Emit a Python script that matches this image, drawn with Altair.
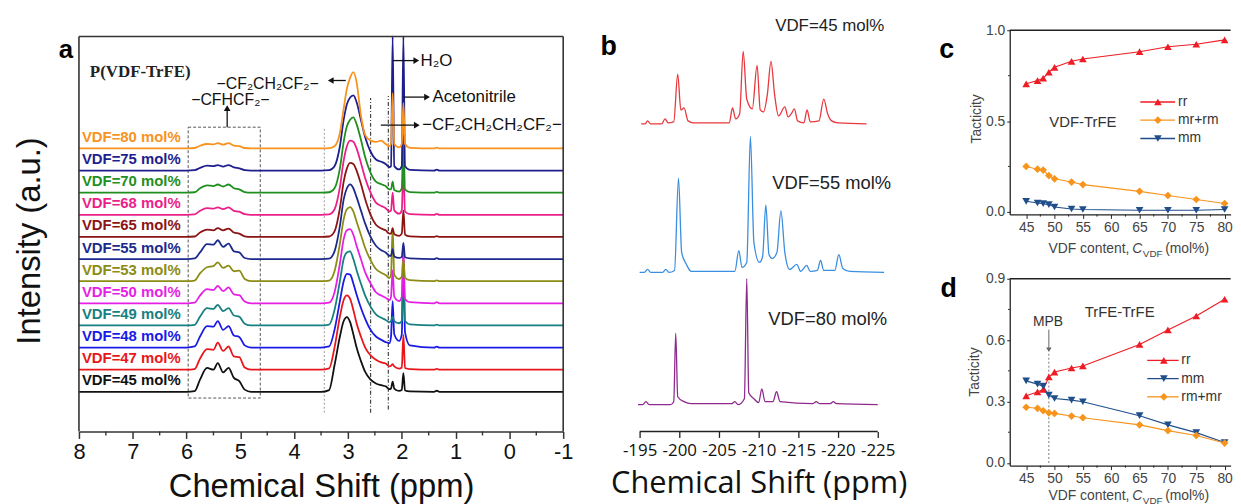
import altair as alt
import pandas as pd

SANS = "Liberation Sans"

# ---------------- panel a : 1H NMR spectra ----------------
A_PPM = [8.0, 6.0, 5.85, 5.75, 5.62, 5.5, 5.42, 5.32, 5.22, 5.12, 5.02, 4.92, 4.8,
         3.5, 3.35, 3.25, 3.15, 3.08, 3.02, 2.96, 2.9, 2.84, 2.76, 2.68, 2.58, 2.48, 2.38, 2.3, 2.23,
         2.2, 2.17, 2.14, 2.05, 2.0, 1.97, 1.94, 1.85,
         1.4, 1.35, 1.3, -1.0]
A_LABELS = ["VDF=45 mol%", "VDF=47 mol%", "VDF=48 mol%", "VDF=49 mol%", "VDF=50 mol%", "VDF=53 mol%",
            "VDF=55 mol%", "VDF=65 mol%", "VDF=68 mol%", "VDF=70 mol%", "VDF=75 mol%", "VDF=80 mol%"]
A_COLORS = ["#111111", "#e8161b", "#1a1ae6", "#178080", "#e61ee6", "#8c8c14",
            "#1c2a8c", "#8b1414", "#ec1f8a", "#1f8f1f", "#1e1e8e", "#f7931e"]
A_I45 = [0, 0, 0.03, 0.55, 1.08, 1.0, 1.3, 0.88, 1.08, 0.63, 0.48, 0.1, 0,
         0, 0.08, 1.2, 2.5, 3.2, 3.38, 3.15, 2.6, 2.0, 1.4, 0.9, 0.55, 0.38, 0.3, 0.25, 0.12,
         0.15, 0.46, 0.15, 0.04, 0.08, 0.85, 0.06, 0.02, 0, 0.05, 0, 0]
A_I47 = [0, 0, 0.03, 0.5, 0.93, 0.9, 1.22, 0.85, 1.05, 0.6, 0.57, 0.1, 0,
         0, 0.06, 1.0, 2.4, 3.15, 3.36, 3.2, 2.7, 2.1, 1.5, 1.0, 0.65, 0.45, 0.33, 0.28, 0.15,
         0.18, 0.25, 0.15, 0.05, 0.1, 1.57, 0.08, 0.03, 0, 0.04, 0, 0]
A_I48 = [0, 0, 0.05, 0.5, 0.97, 0.95, 1.2, 0.8, 0.97, 0.55, 0.48, 0.1, 0,
         0, 0.05, 0.8, 2.1, 3.0, 3.33, 3.3, 2.9, 2.4, 1.8, 1.3, 0.8, 0.5, 0.35, 0.25, 0.2,
         0.5, 2.1, 0.6, 0.3, 0.6, 4.2, 0.7, 0.1, 0, 0.04, 0, 0]
A_I49 = [0, 0, 0.03, 0.4, 0.78, 0.75, 0.93, 0.65, 0.78, 0.45, 0.4, 0.08, 0,
         0, 0.04, 0.7, 2.0, 3.0, 3.3, 3.35, 3.0, 2.5, 1.9, 1.35, 0.85, 0.5, 0.35, 0.25, 0.15,
         0.2, 0.4, 0.2, 0.1, 0.2, 3.0, 0.2, 0.05, 0, 0.04, 0, 0]
A_I50 = [0, 0, 0.03, 0.35, 0.64, 0.6, 0.79, 0.55, 0.72, 0.4, 0.37, 0.08, 0,
         0, 0.03, 0.5, 1.8, 2.9, 3.3, 3.35, 3.1, 2.6, 2.0, 1.4, 0.9, 0.5, 0.35, 0.25, 0.15,
         0.3, 1.5, 0.3, 0.1, 0.3, 2.5, 0.2, 0.05, 0, 0.05, 0, 0]
A_I53 = [0, 0, 0.03, 0.35, 0.63, 0.68, 0.85, 0.6, 0.7, 0.45, 0.48, 0.1, 0,
         0, 0.03, 0.45, 1.7, 2.8, 3.25, 3.35, 3.15, 2.7, 2.1, 1.5, 0.95, 0.55, 0.38, 0.28, 0.15,
         0.3, 2.4, 0.3, 0.1, 0.2, 1.0, 0.15, 0.05, 0, 0.04, 0, 0]
A_I55 = [0, 0, 0.03, 0.3, 0.68, 0.65, 0.85, 0.55, 0.7, 0.35, 0.3, 0.05, 0,
         0, 0.02, 0.35, 1.5, 2.7, 3.2, 3.38, 3.2, 2.8, 2.2, 1.6, 1.0, 0.6, 0.4, 0.3, 0.15,
         0.15, 0.45, 0.12, 0.05, 0.1, 0.73, 0.08, 0.03, 0, 0.04, 0, 0]
A_I65 = [0, 0, 0.02, 0.2, 0.33, 0.3, 0.4, 0.3, 0.38, 0.2, 0.15, 0.03, 0,
         0, 0.02, 0.25, 1.3, 2.5, 3.1, 3.35, 3.3, 3.0, 2.4, 1.7, 1.0, 0.55, 0.38, 0.3, 0.15,
         0.15, 0.4, 0.12, 0.05, 0.15, 1.2, 0.1, 0.03, 0, 0.04, 0, 0]
A_I68 = [0, 0, 0.02, 0.18, 0.3, 0.28, 0.34, 0.26, 0.34, 0.18, 0.14, 0.03, 0,
         0, 0.02, 0.25, 1.25, 2.45, 3.1, 3.35, 3.3, 3.0, 2.35, 1.65, 1.0, 0.55, 0.4, 0.3, 0.15,
         0.2, 1.0, 0.2, 0.05, 0.2, 2.2, 0.15, 0.03, 0, 0.04, 0, 0]
A_I70 = [0, 0, 0.02, 0.2, 0.33, 0.3, 0.37, 0.28, 0.37, 0.2, 0.15, 0.03, 0,
         0, 0.02, 0.2, 1.1, 2.3, 3.0, 3.3, 3.4, 3.1, 2.4, 1.6, 0.9, 0.5, 0.38, 0.3, 0.15,
         0.15, 0.5, 0.12, 0.05, 0.2, 2.6, 0.15, 0.03, 0, 0.04, 0, 0]
A_I75 = [0, 0, 0.02, 0.12, 0.22, 0.2, 0.25, 0.18, 0.25, 0.14, 0.1, 0.02, 0,
         0, 0.02, 0.2, 1.1, 2.3, 3.0, 3.3, 3.4, 3.1, 2.3, 1.5, 0.85, 0.5, 0.4, 0.3, 0.15,
         0.2, 6.06, 0.2, 0.05, 0.2, 6.06, 0.2, 0.03, 0, 0.04, 0, 0]
A_I80 = [0, 0, 0.02, 0.12, 0.2, 0.18, 0.24, 0.17, 0.24, 0.13, 0.1, 0.02, 0,
         0, 0.01, 0.1, 0.7, 1.8, 2.7, 3.2, 3.45, 3.0, 1.5, 0.6, 0.35, 0.3, 0.35, 0.2, 0.1,
         0.2, 2.5, 0.2, 0.05, 0.2, 2.05, 0.2, 0.03, 0, 0.04, 0, 0]
A_INTENSITIES = [A_I45, A_I47, A_I48, A_I49, A_I50, A_I53, A_I55, A_I65, A_I68, A_I70, A_I75, A_I80]
A_TICKS = [8, 7, 6, 5, 4, 3, 2, 1, 0, -1]
A_MINOR = [7.5, 6.5, 5.5, 4.5, 3.5, 2.5, 1.5, 0.5, -0.5]

# ---------------- panel b : 19F NMR spectra ----------------
B45_PPM = [-195.2, -195.7, -196.0, -196.4, -197.8, -198.2, -198.6, -199.3, -199.8, -200.2, -200.6, -201.1, -201.8,
           -206.3, -206.7, -207.1, -207.6, -208.05, -208.5, -209.2, -209.8, -210.2, -210.6, -211.1, -211.55,
           -212.0, -212.5, -213.3, -213.7, -214.1, -214.5, -214.9, -215.7, -216.1, -216.5, -217.6, -218.2,
           -218.7, -219.2, -220.0, -223.6]
B45_H = [0, 0, 3, 0, 0, 5, 1, 2, 50, 14, 16, 3, 1,
         1, 16, 5, 10, 73, 25, 15, 59, 14, 12, 30, 63, 30, 8, 17, 7, 10, 15, 3, 1, 14, 2, 3, 25, 10, 3, 1, 0]
B55_PPM = [-195.0, -195.6, -196.0, -196.4, -197.9, -198.3, -198.7, -199.4, -199.9, -200.3, -200.9, -201.5,
           -207.0, -207.5, -207.9, -208.5, -208.96, -209.4, -210.1, -210.5, -210.9, -211.3, -211.7, -212.3,
           -212.8, -213.3, -213.9, -214.8, -215.3, -216.05, -216.5, -217.4, -217.8, -218.2, -219.6, -220.1,
           -220.6, -221.5, -225.8]
B55_H = [0, 0, 3, 0, 0, 3, 0, 2, 95, 20, 8, 1, 1, 22, 5, 10, 137, 30, 10, 16, 68, 18, 14, 20, 62, 20, 3, 8,
         1, 7, 1, 2, 12, 2, 2, 18, 4, 1, 0]
B80_PPM = [-194.8, -195.4, -195.8, -196.2, -198.9, -199.3, -199.55, -199.8, -200.6, -201.5, -206.6, -207.0,
           -207.4, -208.2, -208.5, -208.75, -209.4, -210.0, -210.4, -210.8, -211.8, -212.25, -212.7, -216.8,
           -217.25, -217.7, -219.0, -219.4, -219.8, -225.0]
B80_H = [0, 0, 3, 0, 0, 3, 72, 8, 3, 1, 1, 3, 0, 6, 127, 12, 6, 2, 16, 3, 3, 13, 3, 1, 3, 1, 1, 3, 1, 0]
B_NAMES = ["VDF=45 mol%", "VDF=55 mol%", "VDF=80 mol%"]
B_COLORS = ["#e8383d", "#3a8ee0", "#8e2a8e"]
B_BASE = [310, 160.3, 27]
B_TICKS = [-195, -200, -205, -210, -215, -220, -225]

# ---------------- panels c, d : tacticity ----------------
T_X = [45, 47, 48, 49, 50, 53, 55, 65, 70, 75, 80]
C_RR = [0.705, 0.723, 0.736, 0.769, 0.796, 0.829, 0.842, 0.882, 0.909, 0.923, 0.947]
C_MRRM = [0.25, 0.235, 0.23, 0.2, 0.182, 0.164, 0.15, 0.113, 0.09, 0.068, 0.046]
C_MM = [0.058, 0.049, 0.045, 0.04, 0.027, 0.016, 0.013, 0.009, 0.009, 0.009, 0.013]
D_RR = [0.328, 0.347, 0.359, 0.42, 0.444, 0.464, 0.474, 0.579, 0.65, 0.718, 0.8]
D_MM = [0.401, 0.385, 0.375, 0.331, 0.315, 0.307, 0.299, 0.231, 0.186, 0.148, 0.1]
D_RMMR = [0.272, 0.267, 0.255, 0.245, 0.242, 0.229, 0.221, 0.186, 0.158, 0.134, 0.097]
RR_C, MR_C, MM_C = "#ee1c24", "#f7941d", "#1f4e8a"

# ================= helpers =================
def XS(domain, axis):
    return alt.X("x:Q", scale=alt.Scale(domain=domain, nice=False, zero=False), axis=axis)

def YS(domain, axis=None):
    return alt.Y("y:Q", scale=alt.Scale(domain=domain, nice=False, zero=False), axis=axis)

# ================= panel a =================
A_XDOM, A_YDOM = [8, -1], [-1.79, 16.34]
A_TOP = 16.06
axis_a = alt.Axis(values=A_TICKS, labelExpr="toString(datum.value)", grid=False, labelFlush=False,
                  labelOverlap=False,
                  title="Chemical Shift (ppm)", titleFont=SANS, titleFontSize=33, titleFontWeight="normal",
                  titleColor="#111", titleY=56, titleBaseline="middle",
                  labelFont=SANS, labelFontSize=22, labelColor="#111", labelPadding=3,
                  tickSize=7, tickWidth=1.5, tickColor="#333", domainColor="#333", domainWidth=1.6)
XA = lambda: XS(A_XDOM, axis_a)
YA = lambda: YS(A_YDOM)

rows = []
for i, (name, vals) in enumerate(zip(A_LABELS, A_INTENSITIES)):
    for k, (p, v) in enumerate(zip(A_PPM, vals)):
        rows.append({"x": p, "y": i + v, "sa": name, "k": k})
spec_a = pd.DataFrame(rows)
colA = alt.Color("sa:N", scale=alt.Scale(domain=A_LABELS, range=A_COLORS), legend=None)

a_lines = alt.Chart(spec_a).mark_line(strokeWidth=1.8, interpolate="monotone").encode(
    x=XA(), y=YA(), color=colA, order=alt.Order("k:Q"))
a_lab = alt.Chart(pd.DataFrame({"x": [7.945] * 12, "y": [i + 0.52 for i in range(12)], "sa": A_LABELS})).mark_text(
    align="left", baseline="middle", font=SANS, fontSize=15, fontWeight="bold").encode(
    x=XA(), y=YA(), text="sa:N", color=colA)

frame_a = pd.DataFrame({"x": [8, -1, 8], "x2": [8, -1, -1], "y": [A_YDOM[0], A_YDOM[0], A_TOP],
                        "y2": [A_TOP, A_TOP, A_TOP]})
a_frame = alt.Chart(frame_a).mark_rule(color="#333", strokeWidth=1.6).encode(
    x=XA(), x2="x2:Q", y=YA(), y2="y2:Q")
a_minor = alt.Chart(pd.DataFrame({"x": A_MINOR, "y": [A_YDOM[0]] * 9, "y2": [A_YDOM[0] - 0.18] * 9})).mark_rule(
    color="#333", strokeWidth=1.4).encode(x=XA(), y=YA(), y2="y2:Q")

a_box = alt.Chart(pd.DataFrame({"x": [5.97], "x2": [4.63], "y": [-0.28], "y2": [11.96]})).mark_rect(
    fill=None, fillOpacity=0, stroke="#555", strokeWidth=1, strokeDash=[3, 2]).encode(
    x=XA(), x2="x2:Q", y=YA(), y2="y2:Q")
vl = pd.DataFrame({"x": [3.44, 2.58, 2.25], "y": [-0.94, -0.94, -0.80], "y2": [11.98, 13.28, 13.37],
                   "t": ["a", "b", "b"]})
a_v1 = alt.Chart(vl[vl.t == "a"]).mark_rule(color="#999", strokeWidth=1, strokeDash=[2, 2]).encode(
    x=XA(), y=YA(), y2="y2:Q")
a_v2 = alt.Chart(vl[vl.t == "b"]).mark_rule(color="#444", strokeWidth=1.2, strokeDash=[4, 2, 1, 2]).encode(
    x=XA(), y=YA(), y2="y2:Q")

arr = pd.DataFrame({"x": [3.04, 5.245, 2.17, 1.97, 2.39], "x2": [3.32, 5.245, 1.73, 1.53, 1.72],
                    "y": [14.07, 11.96, 14.97, 13.32, 12.05], "y2": [14.07, 12.8, 14.97, 13.32, 12.05]})
a_arr = alt.Chart(arr).mark_rule(color="#111", strokeWidth=1.3).encode(x=XA(), x2="x2:Q", y=YA(), y2="y2:Q")
heads = pd.DataFrame({"x": [3.32, 5.245, 1.73, 1.53, 1.72], "y": [14.07, 12.82, 14.97, 13.32, 12.05],
                      "sh": ["triangle-left", "triangle-up", "triangle-right", "triangle-right", "triangle-right"]})
a_heads = alt.Chart(heads).mark_point(filled=True, opacity=1, color="#111", size=45).encode(
    x=XA(), y=YA(), shape=alt.Shape("sh:N", scale=None))

ann = pd.DataFrame({"x": [4.494, 5.186, 1.65, 1.43, 1.62], "y": [13.92, 13.19, 14.97, 13.32, 12.05],
                    "t": ["\u2212CF\u2082CH\u2082CF\u2082\u2212", "\u2212CFHCF\u2082\u2212", "H\u2082O",
                          "Acetonitrile", "\u2212CF\u2082CH\u2082CH\u2082CF\u2082\u2212"],
                    "al": ["c", "c", "l", "l", "l"]})
a_ann_c = alt.Chart(ann[ann.al == "c"]).mark_text(align="center", baseline="middle", font=SANS, fontSize=16,
                                                  color="#111").encode(x=XA(), y=YA(), text="t:N")
a_ann_l = alt.Chart(ann[ann.al == "l"]).mark_text(align="left", baseline="middle", font=SANS, fontSize=17,
                                                  color="#111").encode(x=XA(), y=YA(), text="t:N")
a_pv = alt.Chart(pd.DataFrame({"x": [7.797], "y": [14.44], "t": ["P(VDF-TrFE)"]})).mark_text(
    align="left", baseline="middle", font="Liberation Serif", fontSize=17, fontWeight="bold", color="#222").encode(
    x=XA(), y=YA(), text="t:N")
a_letter = alt.Chart(pd.DataFrame({"x": [8.24], "y": [15.43], "t": ["a"]})).mark_text(
    align="center", baseline="middle", font=SANS, fontSize=26, fontWeight="bold", color="#000").encode(
    x=XA(), y=YA(), text="t:N")
a_ytitle = alt.Chart(pd.DataFrame({"x": [8.904], "y": [6.82], "t": ["Intensity (a.u.)"]})).mark_text(
    align="center", baseline="middle", angle=270, font=SANS, fontSize=33, color="#111").encode(
    x=XA(), y=YA(), text="t:N")

panel_a = alt.layer(a_box, a_v1, a_v2, a_lines, a_lab, a_frame, a_minor, a_arr, a_heads, a_ann_c, a_ann_l,
                    a_pv, a_letter, a_ytitle).properties(width=488, height=404.3)

# ================= panel b =================
B_XDOM, B_YDOM = [-195, -231.93], [0, 404.3]
axis_b = alt.Axis(values=B_TICKS, labelExpr="toString(datum.value)", grid=False, domain=False,
                  labelFlush=False, labelOverlap=False,
                  title="Chemical Shift (ppm)", titleFont="Open Sans", titleFontSize=31, titleFontWeight="normal",
                  titleColor="#111", titleX=120, titleY=53, titleAlign="center", titleBaseline="middle",
                  labelFont="Open Sans", labelFontSize=17, labelColor="#111", labelPadding=5,
                  tickSize=6, tickWidth=1.3, tickColor="#222")
XB = lambda: XS(B_XDOM, axis_b)
YB = lambda: YS(B_YDOM)
rows = []
for name, base, pp, hh in zip(B_NAMES, B_BASE, [B45_PPM, B55_PPM, B80_PPM], [B45_H, B55_H, B80_H]):
    for k, (p, h) in enumerate(zip(pp, hh)):
        rows.append({"x": p, "y": base + h, "sb": name, "k": k})
spec_b = pd.DataFrame(rows)
colB = alt.Color("sb:N", scale=alt.Scale(domain=B_NAMES, range=B_COLORS), legend=None)
b_lines = alt.Chart(spec_b).mark_line(strokeWidth=1.3, interpolate="monotone").encode(
    x=XB(), y=YB(), color=colB, order=alt.Order("k:Q"))
b_axis = alt.Chart(pd.DataFrame({"x": [-195], "x2": [-225], "y": [0]})).mark_rule(
    color="#222", strokeWidth=1.5).encode(x=XB(), x2="x2:Q", y=YB())
b_lab = alt.Chart(pd.DataFrame({"x": [-218.96, -219.2, -218.7], "y": [409, 250, 113], "t": B_NAMES,
                                "fs": [17, 18.5, 18.5]})).mark_text(
    align="center", baseline="middle", font=SANS, color="#222").encode(
    x=XB(), y=YB(), text="t:N", size=alt.Size("fs:Q", scale=None, legend=None))
b_letter = alt.Chart(pd.DataFrame({"x": [-191.1], "y": [387], "t": ["b"]})).mark_text(
    align="center", baseline="middle", font=SANS, fontSize=27, fontWeight="bold", color="#000").encode(
    x=XB(), y=YB(), text="t:N")
panel_b = alt.layer(b_lines, b_axis, b_lab, b_letter).properties(width=295.4, height=404.3)

# ================= panels c, d =================
T_XDOM = [42.1, 81.06]
T_MINOR = [47.5, 52.5, 57.5, 62.5, 67.5, 72.5, 77.5]
SER_C = ["rr", "mr+rm", "mm"]
SER_D = ["rr", "mm", "rm+mr"]


def tact_panel(tag, ydom, yvals, yminor, series, cols, shapes, values, leg_y, leg_x, label_xy, label_t,
               letter_xy, letter_t, ytitle_xy, xtitle_y, height):
    f = "s" + tag
    axis_x = alt.Axis(values=[45, 50, 55, 60, 65, 70, 75, 80], grid=False, title=None, labelFont=SANS,
                      labelFlush=False, labelOverlap=False,
                      labelFontSize=14, labelColor="#444", labelPadding=2, tickSize=4, tickColor="#222",
                      domainColor="#222", domainWidth=1.3)
    axis_y = alt.Axis(values=yvals, format=".1f", grid=False, title=None, labelFont=SANS, labelFontSize=14,
                      labelFlush=False, labelOverlap=False,
                      labelColor="#444", labelPadding=2, tickSize=3, tickColor="#222", domainColor="#222",
                      domainWidth=1.3)
    X = lambda: XS(T_XDOM, axis_x)
    Y = lambda: YS(ydom, axis_y)
    rows = []
    for s, vals in zip(series, values):
        for xv, yv in zip(T_X, vals):
            rows.append({"x": xv, "y": yv, f: s})
    df = pd.DataFrame(rows)
    col = alt.Color(f + ":N", scale=alt.Scale(domain=series, range=cols), legend=None)
    shp = alt.Shape(f + ":N", scale=alt.Scale(domain=series, range=shapes), legend=None)
    lines = alt.Chart(df).mark_line(strokeWidth=1.1).encode(x=X(), y=Y(), color=col, detail=f + ":N")
    pts = alt.Chart(df).mark_point(filled=True, opacity=1, size=60).encode(x=X(), y=Y(), color=col, shape=shp)
    leg = pd.DataFrame({"x": [leg_x[0]] * 3, "x2": [leg_x[1]] * 3, "xm": [leg_x[2]] * 3, "xt": [leg_x[3]] * 3,
                        "y": leg_y, f: series})
    leg_l = alt.Chart(leg).mark_rule(strokeWidth=1.3).encode(x=X(), x2="x2:Q", y=Y(), color=col)
    leg_p = alt.Chart(leg).mark_point(filled=True, opacity=1, size=60).encode(
        x=alt.X("xm:Q", scale=alt.Scale(domain=T_XDOM, nice=False, zero=False), axis=axis_x), y=Y(),
        color=col, shape=shp)
    leg_t = alt.Chart(leg).mark_text(align="left", baseline="middle", font=SANS, fontSize=14,
                                     color="#333").encode(
        x=alt.X("xt:Q", scale=alt.Scale(domain=T_XDOM, nice=False, zero=False), axis=axis_x), y=Y(),
        text=f + ":N")
    top = alt.Chart(pd.DataFrame({"x": [T_XDOM[0]], "x2": [T_XDOM[1]], "y": [ydom[1]]})).mark_rule(
        color="#222", strokeWidth=1.3).encode(x=X(), x2="x2:Q", y=Y())
    span = ydom[1] - ydom[0]
    minor_x = alt.Chart(pd.DataFrame({"x": T_MINOR, "y": [ydom[0]] * 7,
                                      "y2": [ydom[0] - span * 2.2 / height] * 7})).mark_rule(
        color="#222", strokeWidth=1).encode(x=X(), y=Y(), y2="y2:Q")
    minor_y = alt.Chart(pd.DataFrame({"x": [T_XDOM[0]] * len(yminor), "x2": [T_XDOM[0] - 0.3] * len(yminor),
                                      "y": yminor})).mark_rule(color="#222", strokeWidth=1).encode(
        x=X(), x2="x2:Q", y=Y())
    txt = alt.Chart(pd.DataFrame({"x": [label_xy[0]], "y": [label_xy[1]], "t": [label_t]})).mark_text(
        align="center", baseline="middle", font=SANS, fontSize=15, color="#333").encode(x=X(), y=Y(), text="t:N")
    letter = alt.Chart(pd.DataFrame({"x": [letter_xy[0]], "y": [letter_xy[1]], "t": [letter_t]})).mark_text(
        align="center", baseline="middle", font=SANS, fontSize=27, fontWeight="bold", color="#000").encode(
        x=X(), y=Y(), text="t:N")
    yt = alt.Chart(pd.DataFrame({"x": [ytitle_xy[0]], "y": [ytitle_xy[1]], "t": ["Tacticity"]})).mark_text(
        align="center", baseline="middle", angle=270, font=SANS, fontSize=14, color="#444").encode(
        x=X(), y=Y(), text="t:N")
    sub_dy = -span * 5 / height
    t1 = alt.Chart(pd.DataFrame({"x": [63.21], "y": [xtitle_y], "t": ["VDF content,"]})).mark_text(
        align="right", baseline="middle", font=SANS, fontSize=14, color="#444").encode(x=X(), y=Y(), text="t:N")
    t2 = alt.Chart(pd.DataFrame({"x": [63.73], "y": [xtitle_y], "t": ["C"]})).mark_text(
        align="left", baseline="middle", font=SANS, fontSize=14, fontStyle="italic", color="#444").encode(
        x=X(), y=Y(), text="t:N")
    t3 = alt.Chart(pd.DataFrame({"x": [65.57], "y": [xtitle_y + sub_dy], "t": ["VDF"]})).mark_text(
        align="left", baseline="middle", font=SANS, fontSize=10, color="#444").encode(x=X(), y=Y(), text="t:N")
    t4 = alt.Chart(pd.DataFrame({"x": [69.51], "y": [xtitle_y], "t": ["(mol%)"]})).mark_text(
        align="left", baseline="middle", font=SANS, fontSize=14, color="#444").encode(x=X(), y=Y(), text="t:N")
    layers = [lines, pts, leg_l, leg_p, leg_t, top, minor_x, minor_y, txt, letter, yt, t1, t2, t3, t4]
    return layers, X, Y


c_layers, XC, YC = tact_panel(
    "c", [-0.0142, 1.0], [0, 0.5, 1.0], [0.25, 0.75], SER_C, [RR_C, MR_C, MM_C],
    ["triangle-up", "diamond", "triangle-down"], [C_RR, C_MRRM, C_MM],
    [0.605, 0.505, 0.404], [65.13, 71.26, 68.23, 71.78], (54.99, 0.496), "VDF-TrFE",
    (31.0, 0.889), "c", (36.25, 0.512), -0.204, 185.6)
panel_c = alt.layer(*c_layers).properties(width=222.6, height=185.6)

d_layers, XD, YD = tact_panel(
    "d", [-0.013, 0.9], [0, 0.3, 0.6, 0.9], [0.15, 0.45, 0.75], SER_D, [RR_C, MM_C, MR_C],
    ["triangle-up", "triangle-down", "diamond"], [D_RR, D_MM, D_RMMR],
    [0.501, 0.412, 0.323], [66.35, 71.9, 69.28, 72.36], (61.48, 0.735), "TrFE-TrFE",
    (31.35, 0.85), "d", (36.03, 0.444), -0.163, 188.3)
mpb_line = alt.Chart(pd.DataFrame({"x": [49], "y": [0], "y2": [0.541]})).mark_rule(
    color="#777", strokeWidth=1, strokeDash=[2, 2]).encode(x=XD(), y=YD(), y2="y2:Q")
mpb_arrow = alt.Chart(pd.DataFrame({"x": [49], "y": [0.55], "y2": [0.651]})).mark_rule(
    color="#666", strokeWidth=1).encode(x=XD(), y=YD(), y2="y2:Q")
mpb_head = alt.Chart(pd.DataFrame({"x": [49], "y": [0.553]})).mark_point(
    shape="triangle-down", filled=True, opacity=1, size=30, color="#666").encode(x=XD(), y=YD())
mpb_txt = alt.Chart(pd.DataFrame({"x": [48.86], "y": [0.687], "t": ["MPB"]})).mark_text(
    align="center", baseline="middle", font=SANS, fontSize=14, color="#333").encode(x=XD(), y=YD(), text="t:N")
panel_d = alt.layer(mpb_line, mpb_arrow, mpb_head, mpb_txt, *d_layers).properties(width=222.6, height=188.3)

right = alt.vconcat(panel_c, panel_d, spacing=64.4, bounds="flush").resolve_scale(
    color="independent", shape="independent")
chart = alt.hconcat(panel_a, panel_b, right, spacing=77, bounds="flush").resolve_scale(
    color="independent", shape="independent").properties(
    padding={"left": 5.5, "top": 6.5, "right": 0, "bottom": 0}).configure_view(stroke=None)

chart.save("out.html", embed_options={"renderer": "svg", "actions": False})
